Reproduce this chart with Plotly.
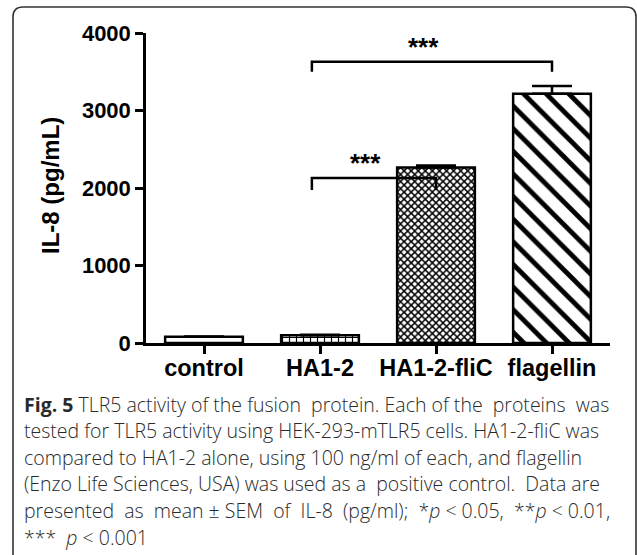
import plotly.graph_objects as go

# ---- data ----
categories = ["control", "HA1-2", "HA1-2-fliC", "flagellin"]
means = [80, 100, 2265, 3215]
sem = [5, 5, 25, 100]
y_ticks = [0, 1000, 2000, 3000, 4000]
y_title = "IL-8 (pg/mL)"
# comparisons: (left category, right category, bracket top, bracket foot, label)
comp_left = ["HA1-2", "HA1-2"]
comp_right = ["HA1-2-fliC", "flagellin"]
comp_top = [2130, 3630]
comp_foot = [1975, 3500]
comp_label = ["***", "***"]

caption_lines = [
    "<b>Fig. 5</b> TLR5 activity of the fusion  protein. Each of the  proteins  was",
    "tested for TLR5 activity using HEK-293-mTLR5 cells. HA1-2-fliC was",
    "compared to HA1-2 alone, using 100 ng/ml of each, and flagellin",
    "(Enzo Life Sciences, USA) was used as a  positive control.  Data are",
    "presented  as  mean ± SEM  of  IL-8  (pg/ml);  *<i>p</i> < 0.05,  **<i>p</i> < 0.01,",
    "***  <i>p</i> < 0.001",
]

# ---- styling ----
W, H = 637, 555
def px(x):
    return x / W
def py(y):
    return 1 - y / H

pat_shapes = ["", "+", "x", "\\"]
pat_sizes = [8, 7, 5, 16]
pat_solid = [0.3, 0.3, 0.5, 0.3]

fig = go.Figure()
fig.add_trace(go.Bar(
    x=categories, y=means, width=0.67,
    error_y=dict(type="data", array=sem, arrayminus=[0] * len(sem), symmetric=False,
                 color="black", thickness=2.5, width=20),
    marker=dict(color="white", line=dict(color="black", width=2.5),
                pattern=dict(shape=pat_shapes, size=pat_sizes, solidity=pat_solid,
                             fgcolor="black", bgcolor="white")),
    showlegend=False, hoverinfo="skip",
))

cat_idx = {c: i for i, c in enumerate(categories)}
for l, r, top, foot, lab in zip(comp_left, comp_right, comp_top, comp_foot, comp_label):
    x0 = cat_idx[l] - 0.07
    x1 = cat_idx[r]
    fig.add_shape(type="path", xref="x", yref="y",
                  path=f"M {x0},{foot} L {x0},{top} L {x1},{top} L {x1},{foot}",
                  line=dict(color="black", width=2.5))
    fig.add_annotation(x=(x0 + x1) / 2, y=top, xref="x", yref="y", text=lab,
                       showarrow=False, yanchor="bottom", xshift=-8, yshift=-2,
                       font=dict(family="Liberation Sans, Arial", size=26, color="black", weight="bold"))

# y-axis title
fig.add_annotation(x=px(50), y=py(186), xref="paper", yref="paper", text=f"<b>{y_title}</b>",
                   textangle=-90, showarrow=False, xanchor="center", yanchor="middle",
                   font=dict(family="Liberation Sans, Arial", size=24, color="black"))

# caption
for i, line in enumerate(caption_lines):
    fig.add_annotation(x=px(22), y=py(404 + 26.6 * i), xref="paper", yref="paper", text=line,
                       showarrow=False, xanchor="left", yanchor="middle", align="left",
                       font=dict(family="Open Sans", size=19.5, color="#2a2a2a", weight=300))

# rounded frame (open at bottom)
L, R, T, r = 13, 636, 7, 10
frame = (f"M {px(L)},{py(H+5)} L {px(L)},{py(T+r)} Q {px(L)},{py(T)} {px(L+r)},{py(T)} "
         f"L {px(R-r)},{py(T)} Q {px(R)},{py(T)} {px(R)},{py(T+r)} L {px(R)},{py(H+5)}")
fig.add_shape(type="path", xref="paper", yref="paper", path=frame,
              line=dict(color="#333333", width=1.6))

fig.update_layout(
    template="none",
    width=W, height=H, margin=dict(l=0, r=0, t=0, b=0, pad=0),
    paper_bgcolor="white", plot_bgcolor="white",
    font=dict(family="Liberation Sans, Arial", color="black"),
    xaxis=dict(domain=[px(146), px(610)], range=[-0.5, 3.5], showline=True, linecolor="black",
               linewidth=2.5, ticks="outside", ticklen=8, tickwidth=2.5, tickcolor="black",
               showgrid=False, zeroline=False, automargin=False, ticklabelstandoff=-6,
               tickfont=dict(family="Liberation Sans, Arial", size=23.5, color="black", weight="bold")),
    yaxis=dict(domain=[py(343), py(33)], range=[0, 4000], tickvals=y_ticks, showline=True,
               linecolor="black", linewidth=2.5, ticks="outside", ticklen=8, tickwidth=2.5,
               tickcolor="black", showgrid=False, zeroline=False, automargin=False,
               tickfont=dict(family="Liberation Sans, Arial", size=22, color="black", weight="bold")),
)

fig.write_html("out.html", config={"displayModeBar": False},
               post_script="document.body.style.margin='0px';")
